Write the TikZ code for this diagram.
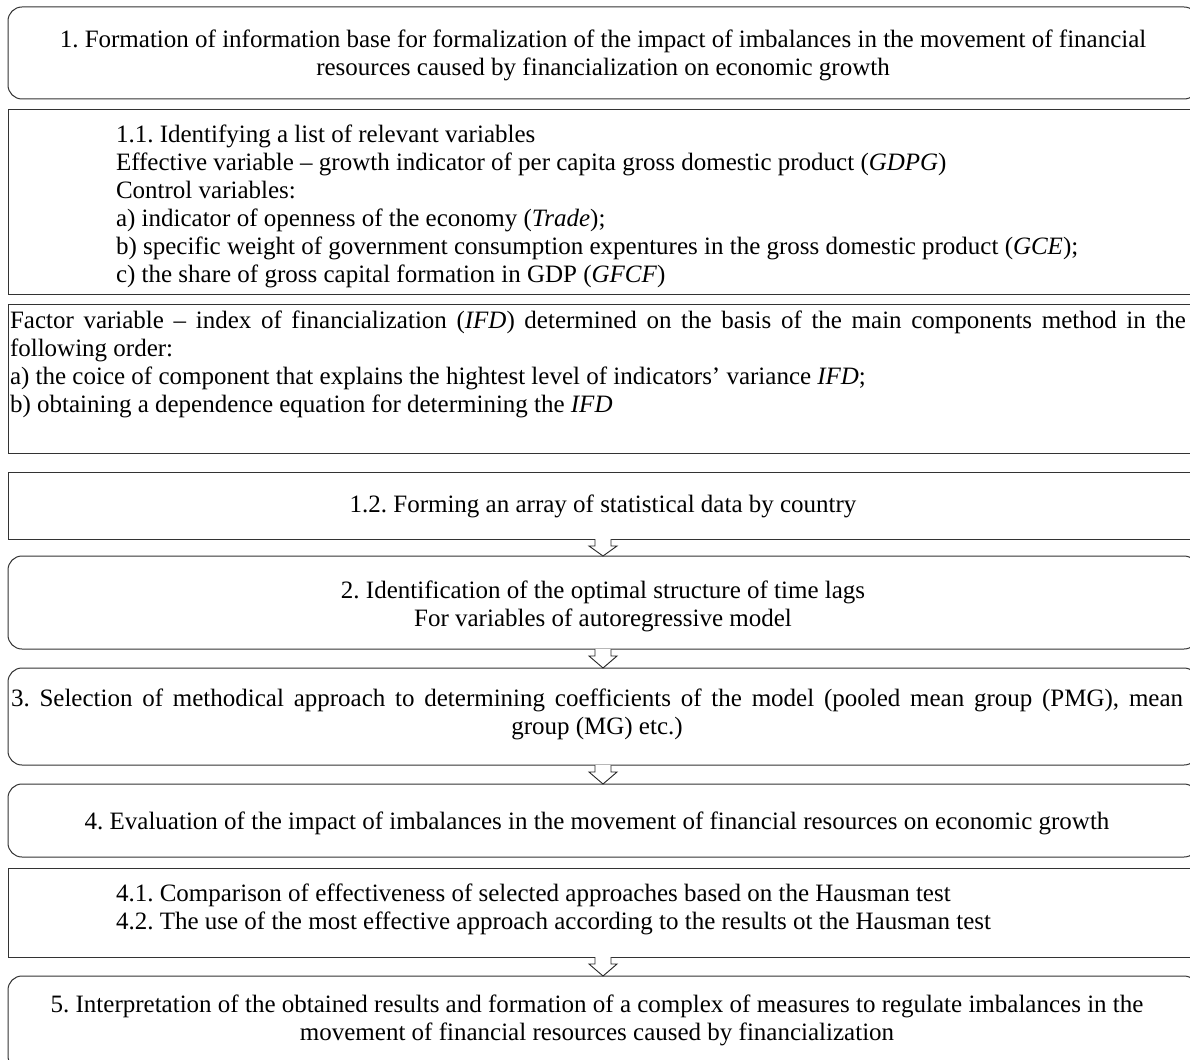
\documentclass[tikz,border=0pt]{standalone}
\usepackage{fontspec}
\setmainfont{Liberation Serif}
\usetikzlibrary{calc}
\tikzset{
  boxline/.style={draw=black!80, line width=1pt},
  flatbox/.style={boxline, anchor=north west, inner sep=0pt, outer sep=0pt, minimum width=1190pt},
  roundbox/.style={flatbox, rounded corners=14pt},
  txt/.style={inner sep=0pt, outer sep=0pt, font=\fontsize{25pt}{28pt}\selectfont},
  ctxt/.style={txt, align=center},
  ltxt/.style={txt, align=left, anchor=west},
  arrowline/.style={draw=black!85, line width=0.9pt, fill=white, line join=miter},
}
\newcommand{\blkarrow}[2]{\draw[arrowline] ($(#1.south)+(-8,0)$) -- ++(0,7) -- ++(-6,0) -- (#2.north) -- ($(#1.south)+(14,7)$) -- ++(-6,0) -- ++(0,-7);}
\begin{document}
\frenchspacing
\begin{tikzpicture}[x=1pt,y=-1pt]
\useasboundingbox (0,0) rectangle (1190,1059);
\clip (0,0) rectangle (1190,1059);
\fill[white] (0,0) rectangle (1190,1059);
% boxes
\node[roundbox, minimum height=92pt] (b1) at (8,7) {};
\node[flatbox, minimum height=184pt] (b11) at (8,110) {};
\node[flatbox, minimum height=149pt] (bf) at (8,304) {};
\node[flatbox, minimum height=67pt] (b12) at (8,472) {};
\node[roundbox, minimum height=93pt] (b2) at (8,556) {};
\node[roundbox, minimum height=97pt] (b3) at (8,668) {};
\node[roundbox, minimum height=73pt] (b4) at (8,784) {};
\node[flatbox, minimum height=89pt] (b41) at (8,868) {};
\node[roundbox, minimum height=94pt] (b5) at (8,976) {};
% texts
\node[ctxt] (t1) at (603,55) {1. Formation of information base for formalization of the impact of imbalances in the movement of financial\\resources caused by financialization on economic growth};
\node[ltxt] (t11) at (116,206) {1.1. Identifying a list of relevant variables\\
Effective variable -- growth indicator of per capita gross domestic product (\textit{GDPG})\\
Control variables:\\
a) indicator of openness of the economy (\textit{Trade});\\
b) specific weight of government consumption expentures in the gross domestic product (\textit{GCE});\\
c) the share of gross capital formation in GDP (\textit{GFCF})};
\node[ltxt] (tf) at (10,364) {\makebox[1176pt][s]{Factor variable -- index of financialization (\textit{IFD}) determined on the basis of the main components method in the}\\
following order:\\
a) the coice of component that explains the hightest level of indicators’ variance \textit{IFD};\\
b) obtaining a dependence equation for determining the \textit{IFD}};
\node[ctxt] (t12) at (603,506) {1.2. Forming an array of statistical data by country};
\node[ctxt] (t2) at (603,606) {2. Identification of the optimal structure of time lags\\For variables of autoregressive model};
\node[ctxt] (t3) at (597,714) {\makebox[1172pt][s]{3. Selection of methodical approach to determining coefficients of the model (pooled mean group (PMG), mean}\\group (MG) etc.)};
\node[ctxt] (t4) at (597,823) {4. Evaluation of the impact of imbalances in the movement of financial resources on economic growth};
\node[ltxt] (t41) at (116,909) {4.1. Comparison of effectiveness of selected approaches based on the Hausman test\\
4.2. The use of the most effective approach according to the results ot the Hausman test};
\node[ctxt] (t5) at (597,1020) {5. Interpretation of the obtained results and formation of a complex of measures to regulate imbalances in the\\movement of financial resources caused by financialization};
% arrows
\blkarrow{b12}{b2}
\blkarrow{b2}{b3}
\blkarrow{b3}{b4}
\blkarrow{b41}{b5}
\end{tikzpicture}
\end{document}
